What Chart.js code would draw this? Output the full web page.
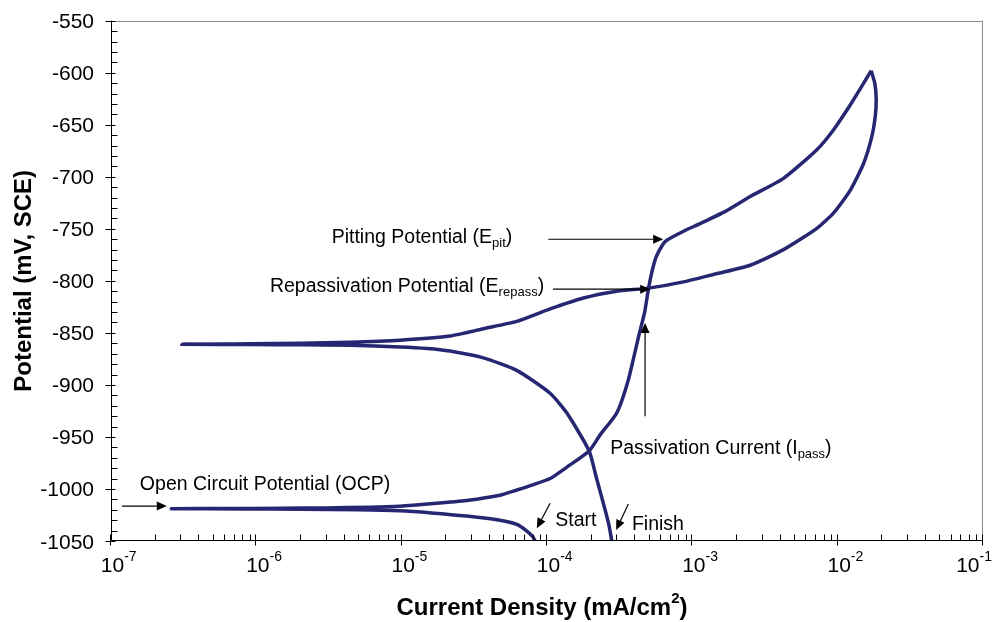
<!DOCTYPE html>
<html lang="en">
<head>
<meta charset="UTF-8">
<title>Cyclic Polarization</title>
<script src="https://cdn.jsdelivr.net/npm/chart.js@4.4.0/dist/chart.umd.min.js"></script>
<style>
  html, body { margin: 0; padding: 0; background: #fff; }
  #chart { display: block; }
</style>
</head>
<body>
<canvas id="chart" width="993" height="622"></canvas>
<script>
// forward scan: start -> OCP -> anodic branch -> vertex
var fwdCurrent = [8.3e-5, 8.0e-5, 7.2e-5, 6.2e-5, 4.75e-5, 2.8e-5, 1.6e-5, 9.7e-6, 5e-6, 2e-6, 8e-7, 2.6e-7,
  6e-7, 1.5e-6, 3e-6, 6e-6, 9.7e-6, 1.65e-5, 2.8e-5, 4.75e-5, 6.2e-5, 8e-5, 1.05e-4, 1.37e-4, 1.95e-4,
  2.32e-4, 3.02e-4, 3.63e-4, 4.26e-4, 4.7e-4, 5e-4, 5.3e-4, 5.64e-4, 6.2e-4, 6.67e-4, 8.5e-4, 1.13e-3,
  1.7e-3, 2.5e-3, 4.24e-3, 7.19e-3, 9.35e-3, 1.22e-2, 1.51e-2, 1.7e-2];
var fwdPotential = [-1050, -1046, -1040, -1034, -1030, -1026, -1023, -1021, -1020, -1019.5, -1019.2, -1019,
  -1018.8, -1018.5, -1018.2, -1017.5, -1016.5, -1014, -1011, -1006, -1001, -996, -990, -979, -963.5,
  -948, -927, -895, -854, -830, -807, -790, -777, -766, -761, -753, -745,
  -733, -719, -701.5, -674, -655, -631, -610, -598];

// reverse scan: vertex -> repassivation -> new rest potential -> finish
var revCurrent = [1.7e-2, 1.8e-2, 1.84e-2, 1.82e-2, 1.72e-2, 1.51e-2, 1.22e-2, 9.35e-3, 7.19e-3, 4.24e-3,
  2.5e-3, 1.48e-3, 8.69e-4, 5e-4, 3.02e-4, 1.78e-4, 1.05e-4, 6.19e-5, 3.65e-5, 2.15e-5, 9.75e-6, 4.42e-6,
  2e-6, 9e-7, 3.08e-7,
  9e-7, 2e-6, 4.42e-6, 9.75e-6, 1.5e-5, 2.15e-5, 3.65e-5, 6.19e-5, 1.05e-4, 1.37e-4, 1.95e-4, 2.18e-4, 2.51e-4,
  2.67e-4, 2.79e-4];
var revPotential = [-598, -610, -624, -640, -661, -687, -713, -735, -749.5, -770,
  -785, -793, -801, -807, -810, -816.5, -827, -839, -846, -853, -857, -859,
  -860, -860.5, -861,
  -861.2, -861.5, -862, -863.5, -865, -867.5, -874, -886, -908, -927, -963.5, -988.5, -1020,
  -1035, -1050];

var xDecades = [-7, -6, -5, -4, -3, -2, -1];
var yTicks = [-550, -600, -650, -700, -750, -800, -850, -900, -950, -1000, -1050];

// annotation labels: [main text, subscript, closing, x value, y value]
var labels = [
  ['Pitting Potential (E', 'pit', ')', 3.3e-6, -757],
  ['Repassivation Potential (E', 'repass', ')', 1.24e-6, -804],
  ['Passivation Current (I', 'pass', ')', 2.72e-4, -959.5],
  ['Open Circuit Potential (OCP)', '', '', 1.58e-7, -994.3],
  ['Start', '', '', 1.14e-4, -1029],
  ['Finish', '', '', 3.84e-4, -1032.4]
];
// arrows: [x from, y from, x to, y to]
var arrows = [
  [1.02e-4, -760, 6.3e-4, -760],
  [1.10e-4, -808, 5.13e-4, -808],
  [4.73e-4, -930, 4.73e-4, -840.5],
  [1.19e-7, -1016.4, 2.42e-7, -1016.4],
  [1.05e-4, -1013.8, 8.51e-5, -1037.8],
  [3.63e-4, -1014.4, 2.99e-4, -1039.4]
];

function toPoints(xs, ys) {
  return xs.map(function (x, i) { return { x: x, y: ys[i] }; });
}

var FONT = '"Liberation Sans", Arial, Helvetica, sans-serif';
var lineColor = '#262673';

var axesPlugin = {
  id: 'axesPlugin',
  afterDraw: function (chart) {
    var ctx = chart.ctx;
    var xs = chart.scales.x, ys = chart.scales.y;
    var a = chart.chartArea;
    ctx.save();

    // grey frame on top and right
    ctx.strokeStyle = '#8c8c8c';
    ctx.lineWidth = 1;
    ctx.beginPath();
    ctx.moveTo(a.left, Math.round(a.top) + 0.5);
    ctx.lineTo(a.right, Math.round(a.top) + 0.5);
    ctx.moveTo(Math.round(a.right) - 0.5, a.top);
    ctx.lineTo(Math.round(a.right) - 0.5, a.bottom);
    ctx.stroke();

    // black axes
    var ax = Math.round(a.left) + 0.5, ay = Math.round(a.bottom) - 0.5;
    ctx.strokeStyle = '#000';
    ctx.beginPath();
    ctx.moveTo(ax, a.top);
    ctx.lineTo(ax, ay);
    ctx.lineTo(a.right, ay);

    // y ticks
    for (var v = -1050; v <= -550; v += 10) {
      var py = Math.round(ys.getPixelForValue(v)) + 0.5;
      if (v % 50 === 0) { ctx.moveTo(ax - 6, py); ctx.lineTo(ax + 4, py); }
      else { ctx.moveTo(ax, py); ctx.lineTo(ax + 6, py); }
    }
    // x ticks
    xDecades.forEach(function (d) {
      var px = Math.round(xs.getPixelForValue(Math.pow(10, d))) - 0.5;
      ctx.moveTo(px, ay - 6); ctx.lineTo(px, ay + 5);
      if (d < -1) {
        for (var k = 2; k <= 9; k++) {
          var mx = Math.round(xs.getPixelForValue(k * Math.pow(10, d))) + 0.5;
          ctx.moveTo(mx, ay - 6); ctx.lineTo(mx, ay);
        }
      }
    });
    ctx.stroke();

    // y tick labels
    ctx.fillStyle = '#000';
    ctx.font = '21px ' + FONT;
    ctx.textAlign = 'right';
    ctx.textBaseline = 'alphabetic';
    yTicks.forEach(function (t) {
      ctx.fillText(String(t), 94, ys.getPixelForValue(t) + 7.5);
    });

    // x tick labels 10^n (last one pushed left to stay on the canvas)
    ctx.textAlign = 'left';
    xDecades.forEach(function (d) {
      var px = xs.getPixelForValue(Math.pow(10, d));
      ctx.font = '21px ' + FONT;
      var w = ctx.measureText('10').width;
      ctx.font = '14px ' + FONT;
      var we = ctx.measureText(String(d)).width;
      var x0 = px - w / 2 + 1.5;
      if (x0 + w + we > chart.width - 1) x0 = chart.width - 1 - w - we;
      ctx.font = '21px ' + FONT;
      ctx.fillText('10', x0, 572);
      ctx.font = '14px ' + FONT;
      ctx.fillText(String(d), x0 + w, 561);
    });

    // axis titles
    ctx.font = 'bold 24px ' + FONT;
    var t1 = 'Current Density (mA/cm', t2 = '2', t3 = ')';
    var w1 = ctx.measureText(t1).width, w3 = ctx.measureText(t3).width;
    ctx.font = 'bold 15px ' + FONT;
    var w2 = ctx.measureText(t2).width;
    var sx = 542 - (w1 + w2 + w3) / 2;
    ctx.font = 'bold 24px ' + FONT;
    ctx.fillText(t1, sx, 615);
    ctx.fillText(t3, sx + w1 + w2, 615);
    ctx.font = 'bold 15px ' + FONT;
    ctx.fillText(t2, sx + w1, 603);

    ctx.save();
    ctx.translate(22, (a.top + a.bottom) / 2);
    ctx.rotate(-Math.PI / 2);
    ctx.font = 'bold 24px ' + FONT;
    ctx.textAlign = 'center';
    ctx.fillText('Potential (mV, SCE)', 0, 8.5);
    ctx.restore();

    // annotation text
    labels.forEach(function (l) {
      var px = xs.getPixelForValue(l[3]);
      var py = ys.getPixelForValue(l[4]) + 7;
      ctx.textAlign = 'left';
      ctx.font = '19.5px ' + FONT;
      ctx.fillText(l[0], px, py);
      px += ctx.measureText(l[0]).width;
      if (l[1]) {
        ctx.font = '13px ' + FONT;
        ctx.fillText(l[1], px, py + 4);
        px += ctx.measureText(l[1]).width;
        ctx.font = '19.5px ' + FONT;
        ctx.fillText(l[2], px, py);
      }
    });

    // arrows
    ctx.strokeStyle = '#000';
    ctx.lineWidth = 1.2;
    arrows.forEach(function (r) {
      var x1 = xs.getPixelForValue(r[0]), y1 = ys.getPixelForValue(r[1]);
      var x2 = xs.getPixelForValue(r[2]), y2 = ys.getPixelForValue(r[3]);
      var ang = Math.atan2(y2 - y1, x2 - x1);
      var hl = 10, hw = 4.5;
      var bx = x2 - hl * Math.cos(ang), by = y2 - hl * Math.sin(ang);
      ctx.beginPath();
      ctx.moveTo(x1, y1);
      ctx.lineTo(bx, by);
      ctx.stroke();
      ctx.beginPath();
      ctx.moveTo(x2, y2);
      ctx.lineTo(bx + hw * Math.sin(ang), by - hw * Math.cos(ang));
      ctx.lineTo(bx - hw * Math.sin(ang), by + hw * Math.cos(ang));
      ctx.closePath();
      ctx.fill();
    });

    ctx.restore();
  }
};

var ctx = document.getElementById('chart').getContext('2d');
var chart = new Chart(ctx, {
  type: 'scatter',
  data: {
    datasets: [{
      label: 'Forward scan',
      data: toPoints(fwdCurrent, fwdPotential),
      showLine: true,
      borderColor: lineColor,
      borderWidth: 3.5,
      pointRadius: 0,
      tension: 0.2
    }, {
      label: 'Reverse scan',
      data: toPoints(revCurrent, revPotential),
      showLine: true,
      borderColor: lineColor,
      borderWidth: 3.5,
      pointRadius: 0,
      tension: 0.2
    }]
  },
  options: {
    responsive: false,
    animation: false,
    devicePixelRatio: 1,
    layout: { padding: { left: 111, top: 20.7, right: 10, bottom: 81 } },
    plugins: { legend: { display: false }, tooltip: { enabled: false } },
    scales: {
      x: { type: 'logarithmic', min: 1e-7, max: 1e-1, display: false },
      y: { type: 'linear', min: -1050, max: -550, display: false }
    }
  },
  plugins: [axesPlugin]
});
</script>
</body>
</html>
